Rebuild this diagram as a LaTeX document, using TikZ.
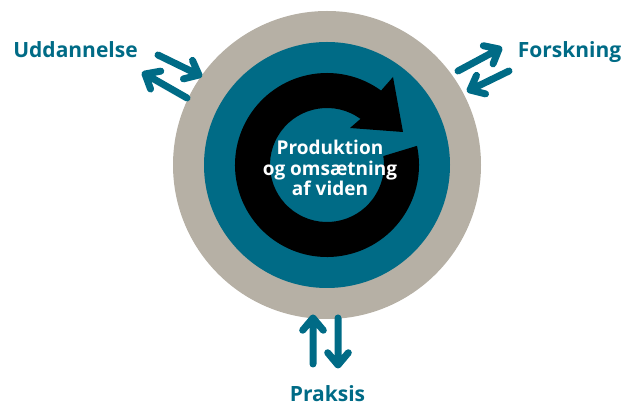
\documentclass[tikz,border=0pt]{standalone}
\usepackage{fontspec}
\setmainfont{Open Sans}
\usetikzlibrary{calc}
\definecolor{teal0}{RGB}{0,107,134}
\definecolor{stone}{RGB}{182,176,165}
\newcommand\chevarrow[2]{%
  \draw[dbl] (#1) -- (#2) ($(#2)!16pt!40:(#1)$) -- (#2) -- ($(#2)!16pt!-40:(#1)$);}
\begin{document}
\begin{tikzpicture}[x=1pt,y=1pt,
  dbl/.style={draw=teal0, line width=7pt, line cap=round, line join=round},
  lbl/.style={text=teal0, font=\fontsize{21}{24}\selectfont\bfseries, anchor=base, inner sep=0pt},
  coretext/.style={text=white, font=\fontsize{19}{20.5}\selectfont\bfseries, align=center, inner sep=0pt}
]
\useasboundingbox (0,0) rectangle (630,407);
\coordinate (C) at (327,242);
\fill[stone] (C) circle[radius=154pt];
\fill[teal0] (C) circle[radius=123pt];
% circular black arrow
\fill[black] ([shift={(12:92pt)}]C) arc[start angle=12, end angle=-306, radius=92pt]
  -- (393,330) -- (403,275) -- (350,279)
  -- ([shift={(54:57pt)}]C) arc[start angle=54, end angle=369, radius=57pt] -- cycle;
\node[coretext] (core) at (330,239) {Produktion\\og omsætning\\af viden};
% labels
\node[lbl] (udd) at (75.5,349) {Uddannelse};
\node[lbl] (fors) at (569.5,349) {Forskning};
\node[lbl] (prak) at (327.5,5) {Praksis};
% arrow end points
\coordinate (u1a) at (158,352); \coordinate (u1b) at (199,332);
\coordinate (u2a) at (187,309); \coordinate (u2b) at (145,333);
\coordinate (f1a) at (458,336); \coordinate (f1b) at (499,358);
\coordinate (f2a) at (509,336); \coordinate (f2b) at (470,317);
\coordinate (p1a) at (313,43);  \coordinate (p1b) at (313,89);
\coordinate (p2a) at (338,89);  \coordinate (p2b) at (338,42);
\chevarrow{u1a}{u1b}
\chevarrow{u2a}{u2b}
\chevarrow{f1a}{f1b}
\chevarrow{f2a}{f2b}
\chevarrow{p1a}{p1b}
\chevarrow{p2a}{p2b}
\end{tikzpicture}
\end{document}
